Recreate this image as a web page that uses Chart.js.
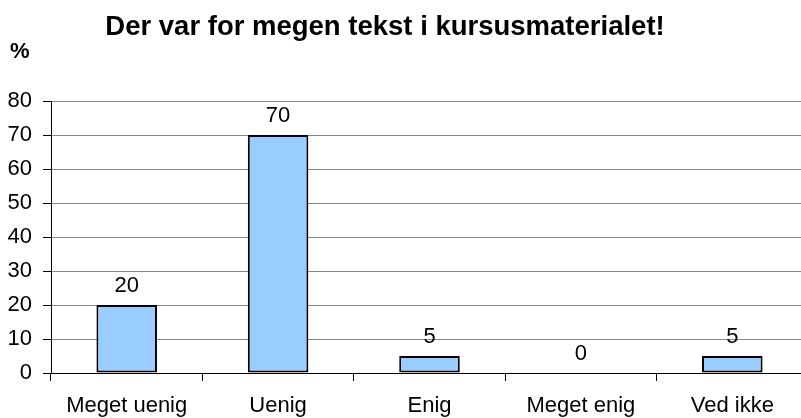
<!DOCTYPE html>
<html>
<head>
<meta charset="utf-8">
<script src="https://cdn.jsdelivr.net/npm/chart.js@4.4.1/dist/chart.umd.min.js"></script>
<style>
    html, body { margin: 0; padding: 0; background: #fff; overflow: hidden; }
    #chart { display: block; }
</style>
</head>
<body>
<canvas id="chart" width="816" height="418"></canvas>
<script>
// Chart data
const titleText = 'Der var for megen tekst i kursusmaterialet!';
const yAxisLabel = '%';
const categories = ['Meget uenig', 'Uenig', 'Enig', 'Meget enig', 'Ved ikke'];
const percentValues = [20, 70, 5, 0, 5];
const yTicks = [0, 10, 20, 30, 40, 50, 60, 70, 80];

const FONT = '"Liberation Sans", Arial, sans-serif';

// Draws the title, the "%" label and the value above each bar
const textPlugin = {
    id: 'texts',
    afterDatasetsDraw(chart) {
        const ctx = chart.ctx;
        ctx.save();
        ctx.fillStyle = '#000';

        ctx.font = 'bold 27.5px ' + FONT;
        ctx.textAlign = 'center';
        ctx.textBaseline = 'alphabetic';
        ctx.fillText(titleText, 385, 35);

        ctx.font = 'bold 22px ' + FONT;
        ctx.textAlign = 'left';
        ctx.fillText(yAxisLabel, 10, 58);

        ctx.font = '22px ' + FONT;
        ctx.textAlign = 'center';
        const meta = chart.getDatasetMeta(0);
        meta.data.forEach((bar, i) => {
            ctx.fillText(String(percentValues[i]), bar.x, bar.y - 13);
        });
        ctx.restore();
    }
};

new Chart(document.getElementById('chart'), {
    type: 'bar',
    data: {
        labels: categories,
        datasets: [{
            data: percentValues,
            backgroundColor: '#99CCFF',
            borderColor: '#000',
            borderWidth: 2,
            borderSkipped: false,
            categoryPercentage: 1,
            barPercentage: 0.4
        }]
    },
    options: {
        responsive: false,
        animation: false,
        layout: { padding: { left: 0, right: 8, top: 101, bottom: 0 } },
        plugins: {
            legend: { display: false },
            title: { display: false },
            tooltip: { enabled: false }
        },
        scales: {
            x: {
                afterFit(scale) { scale.height = 45; },
                grid: {
                    display: true,
                    drawOnChartArea: false,
                    drawTicks: true,
                    tickLength: 8,
                    color: '#000',
                    offset: true
                },
                border: { display: true, color: '#000', width: 1 },
                ticks: {
                    color: '#000',
                    font: { family: FONT, size: 22 },
                    padding: 12,
                    maxRotation: 0,
                    autoSkip: false
                }
            },
            y: {
                min: 0,
                max: 80,
                afterFit(scale) { scale.width = 51; },
                afterBuildTicks(scale) {
                    scale.ticks = yTicks.map(v => ({ value: v }));
                },
                grid: {
                    color: '#888',
                    tickColor: '#000',
                    tickLength: 8,
                    drawTicks: true
                },
                border: { display: true, color: '#000', width: 1 },
                ticks: {
                    color: '#000',
                    font: { family: FONT, size: 22 },
                    padding: 11
                }
            }
        }
    },
    plugins: [textPlugin]
});
</script>
</body>
</html>
